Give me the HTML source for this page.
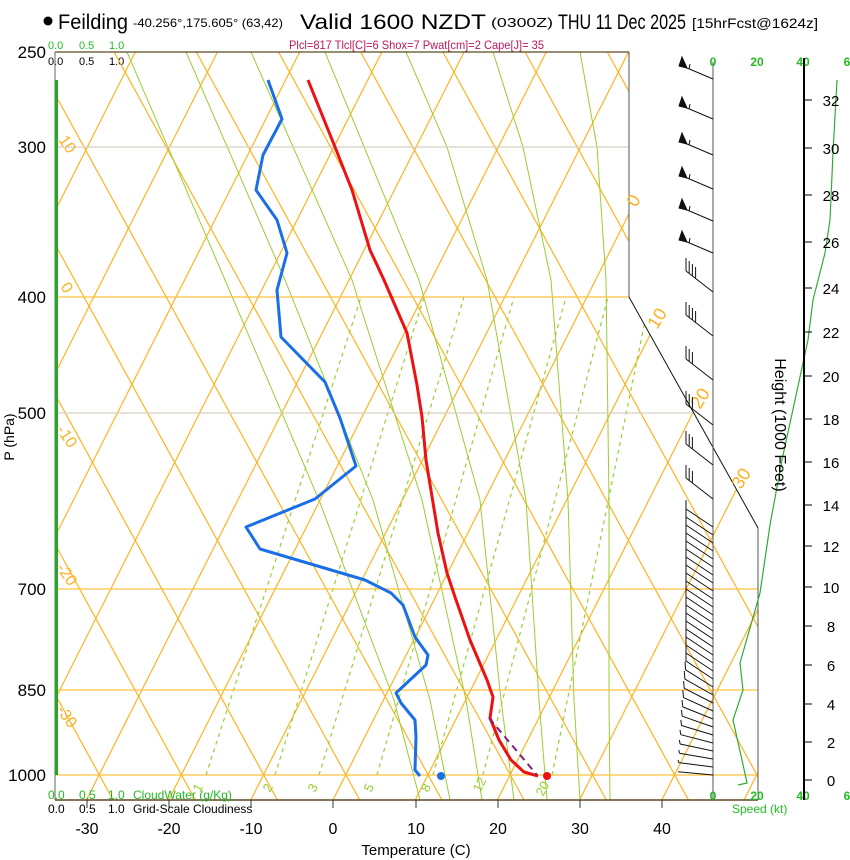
<!DOCTYPE html>
<html><head><meta charset="utf-8"><style>
html,body{margin:0;padding:0;background:#fff;}
svg{display:block;font-family:"Liberation Sans",Arial,sans-serif;}
</style></head><body>
<svg width="850" height="860" viewBox="0 0 850 860" xmlns="http://www.w3.org/2000/svg">
<defs><clipPath id="c"><polygon points="55,52 629,52 629,297 758,528 758,800 55,800"/></clipPath></defs>
<rect width="850" height="860" fill="#fff"/>
<!-- header -->
<circle cx="48" cy="21" r="4.5" fill="#000"/>
<text x="58" y="29" font-size="21" textLength="70" lengthAdjust="spacingAndGlyphs">Feilding</text>
<text x="133" y="27" font-size="12" textLength="150" lengthAdjust="spacingAndGlyphs">-40.256°,175.605° (63,42)</text>
<text x="300" y="29" font-size="21" textLength="186" lengthAdjust="spacingAndGlyphs">Valid 1600 NZDT</text>
<text x="491" y="27" font-size="13" textLength="62" lengthAdjust="spacingAndGlyphs">(0300Z)</text>
<text x="558" y="29" font-size="21" textLength="128" lengthAdjust="spacingAndGlyphs">THU 11 Dec 2025</text>
<text x="692" y="28" font-size="14" textLength="126" lengthAdjust="spacingAndGlyphs">[15hrFcst@1624z]</text>
<text x="289" y="49" font-size="12" fill="#c0185a" textLength="255" lengthAdjust="spacingAndGlyphs">Plcl=817 Tlcl[C]=6 Shox=7 Pwat[cm]=2 Cape[J]= 35</text>
<g font-size="11" fill="#22bb22"><text x="48" y="49">0.0</text><text x="79" y="49">0.5</text><text x="109" y="49">1.0</text></g>
<g font-size="11" fill="#000"><text x="48" y="65">0.0</text><text x="79" y="65">0.5</text><text x="109" y="65">1.0</text></g>
<!-- grid -->
<g clip-path="url(#c)" fill="none">
<path stroke="#ffb322" stroke-width="1.2" d="
M-324.6,800L53.1,52 M-242.4,800L135.3,52 M-160.2,800L217.5,52 M-78,800L299.7,52 M4.2,800L381.9,52 M86.4,800L464.1,52 M168.6,800L546.3,52 M250.8,800L628.5,52 M333,800L710.7,52 M415.2,800L792.9,52 M497.4,800L875.1,52 M579.6,800L957.3,52 M661.8,800L1039.5,52 M744,800L1121.7,52
M113.1,800L-296.9,52 M195.3,800L-214.7,52 M277.5,800L-132.5,52 M359.7,800L-50.3,52 M441.9,800L31.9,52 M524.1,800L114.1,52 M606.3,800L196.3,52 M688.5,800L278.5,52 M770.7,800L360.7,52 M852.9,800L442.9,52 M935.1,800L525.1,52 M1017.3,800L607.3,52 M1099.5,800L689.5,52"/>
<g stroke="#9acd32" stroke-width="1">
<polyline points="127,52 225,280 319,500 394,700 420,800"/>
<polyline points="186,52 285,280 373,500 430,700 450,800"/>
<polyline points="251,52 352,280 422,500 466,700 482,800"/>
<polyline points="325,52 419,280 480,500 501,700 514,800"/>
<polyline points="406,52 447,147 487,280 526,500 539,700 547,800"/>
<polyline points="493,52 523,147 551,280 568,500 574,700 580,800"/>
<polyline points="580,52 597,147 606,280 609,500 609,700 610,800"/>
</g>
<path stroke="#9acd32" stroke-width="1.2" stroke-dasharray="4,4" d="M206,775L361,297 M275,775L424,297 M319,775L464,297 M377,775L514,297 M433,775L566,297 M483,775L608,297 M552,775L650,297"/>
</g>
<!-- pressure lines -->
<g stroke="#ffc040" stroke-width="1.2">
<line x1="55" y1="147" x2="629" y2="147" stroke="#d8d0c0"/>
<line x1="55" y1="297" x2="629" y2="297"/>
<line x1="55" y1="413" x2="694" y2="413" stroke="#d8d0c0"/>
<line x1="55" y1="589" x2="758" y2="589"/>
<line x1="55" y1="690" x2="758" y2="690"/>
<line x1="55" y1="775" x2="758" y2="775"/>
</g>
<!-- frame -->
<line x1="55" y1="52" x2="629" y2="52" stroke="#5a4a20" stroke-width="1.2"/>
<line x1="629" y1="52" x2="629" y2="297" stroke="#555" stroke-width="1"/>
<line x1="629" y1="297" x2="758" y2="528" stroke="#111" stroke-width="1"/>
<line x1="758" y1="528" x2="758" y2="800" stroke="#555" stroke-width="1"/>
<line x1="55" y1="52" x2="55" y2="800" stroke="#666" stroke-width="1"/>
<line x1="55" y1="800" x2="758" y2="800" stroke="#5a4a20" stroke-width="1.5"/>
<line x1="56.5" y1="80" x2="56.5" y2="775" stroke="#22aa22" stroke-width="3"/>
<path stroke="#333" stroke-width="1" d="M87,800V808M169,800V808M251,800V808M333,800V808M416,800V808M498,800V808M580,800V808M662,800V808"/>
<!-- orange labels -->
<g font-size="16" fill="#ffb020">
<text transform="translate(58,140) rotate(55)">10</text>
<text transform="translate(60,287) rotate(55)">0</text>
<text transform="translate(56,430) rotate(55)">-10</text>
<text transform="translate(56,568) rotate(55)">-20</text>
<text transform="translate(56,710) rotate(55)">-30</text>
<text transform="translate(636,208) rotate(-58)" font-size="18">0</text>
<text transform="translate(657,330) rotate(-58)" font-size="18">10</text>
<text transform="translate(700,410) rotate(-58)" font-size="18">20</text>
<text transform="translate(741,490) rotate(-58)" font-size="18">30</text>
</g>
<g font-size="13" fill="#9acd32">
<text transform="translate(200,793) rotate(-62)">1</text>
<text transform="translate(270,793) rotate(-62)">2</text>
<text transform="translate(315,793) rotate(-62)">3</text>
<text transform="translate(371,793) rotate(-62)">5</text>
<text transform="translate(428,793) rotate(-62)">8</text>
<text transform="translate(480,793) rotate(-62)">12</text>
<text transform="translate(543,797) rotate(-62)">20</text>
</g>
<!-- profiles -->
<polyline fill="none" stroke="#1a6fe6" stroke-width="3" stroke-linejoin="round" points="268,80 282,119 263,155 256,190 277,220 287,253 277,290 281,337 325,382 340,418 356,466 315,499 246,527 260,549 365,580 391,593 403,605 415,637 428,655 426,665 396,693 401,703 415,720 416,737 415,770 420,776"/>
<polyline fill="none" stroke="#ee1111" stroke-width="3" stroke-linejoin="round" points="308,80 335,147 352,190 370,250 384,280 407,333 417,385 422,417 426,460 438,533 447,573 455,597 470,640 487,680 493,697 490,718 499,740 511,760 524,772 538,776"/>
<line x1="489" y1="718" x2="537" y2="775" stroke="#7b1f7b" stroke-width="2" stroke-dasharray="7,5"/>
<circle cx="441" cy="776" r="4" fill="#1a6fe6"/>
<circle cx="547" cy="776" r="4" fill="#ee1111"/>
<!-- wind barbs -->
<line x1="713" y1="62" x2="713" y2="800" stroke="#555" stroke-width="1"/>
<g stroke="#111" stroke-width="1" fill="#111">
<path fill="none" d="M713,79L680,65 M713,119L680,105 M713,155L680,141 M713,189L680,175 M713,221L680,207 M713,253L680,239
M689,69L690,64 M689,109L690,104 M689,145L690,140 M689,179L690,174 M689,211L690,206 M689,243L690,238"/>
<polygon points="679,66 682,57 687,68"/><polygon points="679,106 682,97 687,108"/><polygon points="679,142 682,133 687,144"/>
<polygon points="679,176 682,167 687,178"/><polygon points="679,208 682,199 687,210"/><polygon points="679,240 682,231 687,242"/>
<path fill="none" d="
M713,292L686,271 M686,271V258 M689.2,273.5V261 M692.4,276V264 M695.6,278.5V267
M713,336L686,315 M686,315V302 M689.2,317.5V305 M692.4,320V308 M695.6,322.5V311
M713,380L686,359 M686,359V346 M689.2,361.5V349 M692.4,364V352
M713,425L686,404 M686,404V391 M689.2,406.5V394 M692.4,409V397
M713,465L686,444 M686,444V431 M689.2,446.5V434 M692.4,449V437
M713,499L686,478 M686,478V465 M689.2,480.5V468 M692.4,483V471
M686,500V662
M713,527L686,509 M713,535L686,517 M713,543L686,525 M713,551L686,533 M713,559L686,541 M713,567L686,549 M713,575L686,557 M713,583L686,565 M713,591L686,573 M713,599L686,581 M713,607L686,589 M713,615L686,597 M713,623L686,605 M713,631L686,613 M713,639L686,621 M713,647L686,629 M713,655L686,637 M713,663L686,645 M713,671L686,653 M713,679L686,661
M713,687L685.6,669.8 M713,695L684.9,679.1 M713,703L684.2,688.3 M713,711L683.5,697.6 M713,719L682.8,706.9 M713,727L682.2,716.2 M713,735L681.5,725.5 M713,743L680.8,734.7 M713,751L680.1,744 M713,759L679.4,753.3 M713,767L678.8,762.6 M713,775L678.1,771.8
M685.6,669.8L685,662 M684.9,679.1L684.3,671 M684.2,688.3L683.6,681 M683.5,697.6L682.8,690 M682.8,706.9L682,700 M682.2,716.2L681.5,710 M681.5,725.5L680.8,720 M680.8,734.7L680,730 M680.1,744L679.4,740 M679.4,753.3L678.8,750 M678.8,762.6L678,760"/>
</g>
<!-- speed axis labels -->
<g font-size="12" fill="#22bb22" font-weight="bold" text-anchor="middle">
<text x="713" y="66">0</text><text x="757" y="66">20</text><text x="803" y="66">40</text><text x="847" y="66">6</text>
<text x="713" y="800">0</text><text x="757" y="800">20</text><text x="803" y="800">40</text><text x="847" y="800">6</text>
</g>
<text x="732" y="813" font-size="12" fill="#22bb22">Speed (kt)</text>
<polyline fill="none" stroke="#33aa33" stroke-width="1.2" points="837,80 833,153 830,220 825,253 813,300 808,340 795,400 782,460 770,525 760,593 740,663 743,690 733,720 742,760 747,783 738,785"/>
<!-- height axis -->
<line x1="804" y1="58" x2="804" y2="800" stroke="#000" stroke-width="2"/>
<path stroke="#000" stroke-width="1" d="M804,100H812M804,148H812M804,195H812M804,242H812M804,288H812M804,332H812M804,376H812M804,419H812M804,462H812M804,505H812M804,546H812M804,587H812M804,626H812M804,665H812M804,704H812M804,742H812M804,780H812"/>
<g font-size="15" fill="#000" text-anchor="middle">
<text x="831" y="106">32</text><text x="831" y="154">30</text><text x="831" y="201">28</text><text x="831" y="248">26</text><text x="831" y="294">24</text><text x="831" y="338">22</text><text x="831" y="382">20</text><text x="831" y="425">18</text><text x="831" y="468">16</text><text x="831" y="511">14</text><text x="831" y="552">12</text><text x="831" y="593">10</text><text x="831" y="632">8</text><text x="831" y="671">6</text><text x="831" y="710">4</text><text x="831" y="748">2</text><text x="831" y="786">0</text>
</g>
<text transform="translate(775,425) rotate(90)" font-size="16" text-anchor="middle">Height (1000 Feet)</text>
<!-- pressure labels -->
<g font-size="17" text-anchor="end">
<text x="46" y="58">250</text><text x="46" y="153">300</text><text x="46" y="303">400</text><text x="46" y="419">500</text><text x="46" y="595">700</text><text x="46" y="696">850</text><text x="46" y="781">1000</text>
</g>
<text transform="translate(14,437) rotate(-90)" font-size="14" text-anchor="middle">P (hPa)</text>
<!-- bottom labels -->
<g font-size="12" fill="#22bb22"><text x="48" y="799">0.0</text><text x="79" y="799">0.5</text><text x="108" y="799">1.0</text><text x="133" y="799">CloudWater (g/Kg)</text></g>
<g font-size="12" fill="#000"><text x="48" y="813">0.0</text><text x="79" y="813">0.5</text><text x="108" y="813">1.0</text><text x="133" y="813">Grid-Scale Cloudiness</text></g>
<g font-size="16" text-anchor="middle">
<text x="87" y="834">-30</text><text x="169" y="834">-20</text><text x="251" y="834">-10</text><text x="333" y="834">0</text><text x="416" y="834">10</text><text x="498" y="834">20</text><text x="580" y="834">30</text><text x="662" y="834">40</text>
</g>
<text x="416" y="855" font-size="15" text-anchor="middle">Temperature (C)</text>
</svg>
</body></html>
